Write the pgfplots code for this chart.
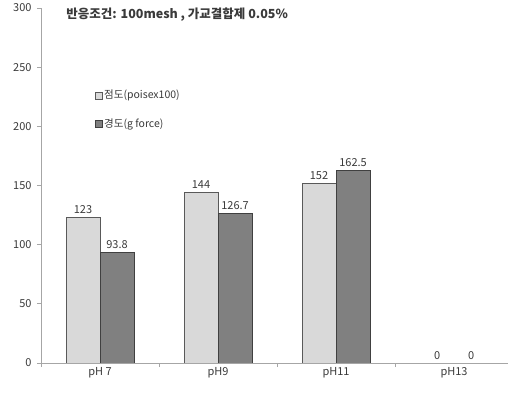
\documentclass[border=0pt]{standalone}
\usepackage{pgfplots}
\pgfplotsset{compat=1.18}
\usepackage{fontspec}
\setmainfont{Noto Sans CJK KR}
\definecolor{lightbar}{HTML}{D9D9D9}
\definecolor{darkbar}{HTML}{808080}
\definecolor{axisgray}{HTML}{A6A6A6}
\definecolor{txt}{HTML}{3A3A3A}
\begin{document}
\begin{tikzpicture}
\useasboundingbox (-41bp,-36bp) rectangle (467bp,363bp);
\begin{axis}[
  scale only axis,
  width=467bp, height=355bp,
  xmin=-0.5, xmax=3.457,
  ymin=0, ymax=300,
  ytick={0,50,...,300},
  axis lines=left,
  axis line style={-, draw=axisgray, line width=0.8bp},
  tick style={draw=axisgray, line width=0.8bp},
  tick align=outside,
  major tick length=4bp,
  xtick={-0.5,0.5,1.5,2.5},
  xticklabels={},
  extra x ticks={0,1,2,3},
  extra x tick labels={pH 7,pH9,pH11,pH13},
  extra x tick style={major tick length=0pt},
  /pgf/number format/assume math mode=true,
  ticklabel style={font=\fontsize{11bp}{13bp}\selectfont, text=txt},
  xticklabel style={yshift=-1bp},
  yticklabel style={xshift=-2bp},
  ybar=0pt, bar width=34bp,
  nodes near coords,
  nodes near coords style={font=\fontsize{11bp}{13bp}\selectfont, text=txt},
  legend image code/.code={\draw[#1, line width=0.6bp] (0bp,-3.5bp) rectangle (7bp,3.5bp);},
  legend style={at={(rel axis cs:0.108,0.78)}, anchor=north west, draw=none, fill=none,
    font=\fontsize{10.5bp}{12bp}\selectfont, text=txt, row sep=14bp},
  legend cell align=left,
]
\addplot[fill=lightbar, draw=black!65, line width=0.7bp]
  coordinates {(0,123) (1,144) (2,152) (3,0)};
\addplot[fill=darkbar, draw=black!75, line width=0.7bp]
  coordinates {(0,93.8) (1,126.7) (2,162.5) (3,0)};
\legend{점도(poisex100), 경도(g force)}
\node[anchor=west, font=\bfseries\fontsize{12.5bp}{15bp}\selectfont, text=txt]
  at (rel axis cs:0.047,0.98) {반응조건: 100mesh , 가교결합제 0.05\%};
\end{axis}
\end{tikzpicture}
\end{document}
